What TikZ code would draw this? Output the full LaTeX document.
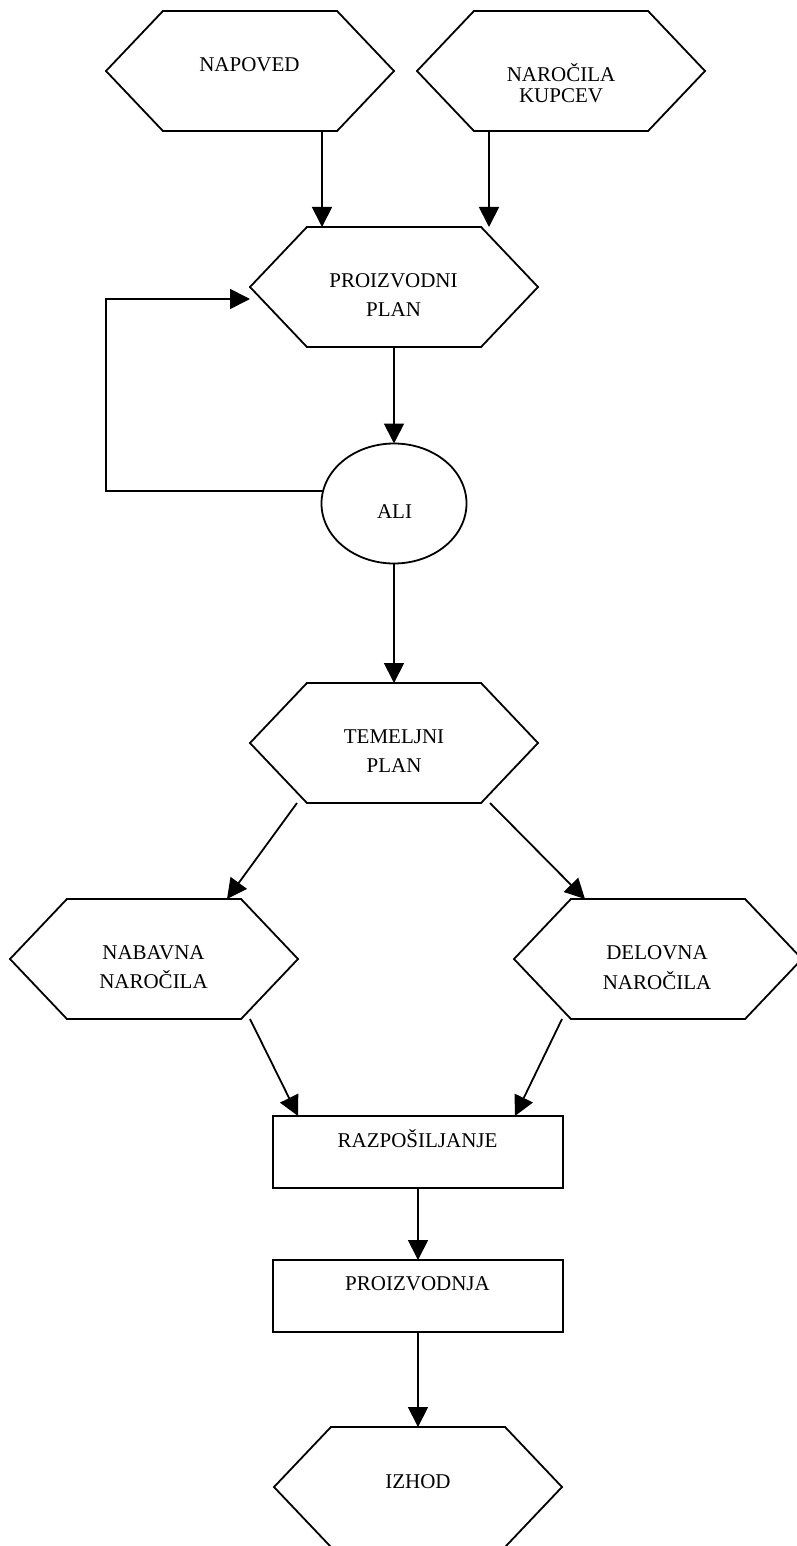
\documentclass[tikz,border=0pt]{standalone}
\usepackage{fontspec}
\setmainfont{Liberation Serif}
\usetikzlibrary{shapes.symbols,shapes.geometric,arrows.meta}
\begin{document}
\begin{tikzpicture}[x=1pt,y=-1pt,
  every node/.style={inner sep=0pt, outer sep=0pt},
  hexa/.style={signal, signal to=west and east, signal pointer angle=93,
    draw, line width=1.8pt, minimum width=288pt, minimum height=120pt},
  oval/.style={ellipse, draw, line width=1.8pt,
    minimum width=145pt, minimum height=120pt},
  stepbox/.style={rectangle, draw, line width=1.8pt,
    minimum width=290pt, minimum height=72pt},
  txt/.style={font=\fontsize{21pt}{29.5pt}\selectfont, align=center},
  arr/.style={line width=1.8pt, -{Triangle[length=20pt,width=20pt]}}]

\useasboundingbox (0,0) rectangle (796,1546);

% shapes of the flow
\node[hexa] (napoved)  at (250,71) {};
\node[hexa] (kupcev)   at (561,71) {};
\node[hexa] (plan)     at (394,287) {};
\node[oval] (ali)      at (394,503.5) {};
\node[hexa] (temeljni) at (394,743) {};
\node[hexa] (nabavna)  at (154,959) {};
\node[hexa] (delovna)  at (658,959) {};
\node[stepbox] (razp)   at (418,1152) {};
\node[stepbox] (proizv) at (418,1296) {};
\node[hexa] (izhod)    at (418,1487) {};

% labels
\node[txt, anchor=base] (napoved-t) at (249.5,72) {NAPOVED};
\node[txt, font=\fontsize{21pt}{21.5pt}\selectfont] (kupcev-t) at (561,83.2) {NAROČILA\\KUPCEV};
\node[txt] (plan-t) at (393.5,295) {PROIZVODNI\\PLAN};
\node[txt, anchor=base] (ali-t) at (394.5,518) {ALI};
\node[txt] (temeljni-t) at (394,750.9) {TEMELJNI\\PLAN};
\node[txt] (nabavna-t) at (153.5,967.4) {NABAVNA\\NAROČILA};
\node[txt] (delovna-t) at (657,967.4) {DELOVNA\\NAROČILA};
\node[txt, anchor=base] (razp-t) at (417.5,1147) {RAZPOŠILJANJE};
\node[txt, anchor=base] (proizv-t) at (417.5,1290) {PROIZVODNJA};
\node[txt, anchor=base] (izhod-t) at (418,1488) {IZHOD};

% connectors
\draw[arr] ([xshift=72pt]napoved.south) -- ([xshift=72pt]napoved.south |- plan.north);
\draw[arr] ([xshift=-72pt]kupcev.south) -- ([xshift=-72pt]kupcev.south |- plan.north);
\draw[arr] (plan.south) -- (plan.south |- ali.north);
\coordinate (loop) at (106,299);
\draw[arr] (ali.170) -| (loop) -- ([yshift=-12pt]plan.west);
\draw[arr] (ali.south) -- (temeljni.north);
\draw[arr] ([xshift=-97pt]temeljni.south) -- ([xshift=73pt]nabavna.north);
\draw[arr] ([xshift=96pt]temeljni.south) -- ([xshift=-73pt]delovna.north);
\draw[arr] ([xshift=96pt]nabavna.south) -- ([xshift=-120pt]razp.north);
\draw[arr] ([xshift=-96pt]delovna.south) -- ([xshift=97pt]razp.north);
\draw[arr] (razp.south) -- (proizv.north);
\draw[arr] (proizv.south) -- (izhod.north);
\end{tikzpicture}
\end{document}
